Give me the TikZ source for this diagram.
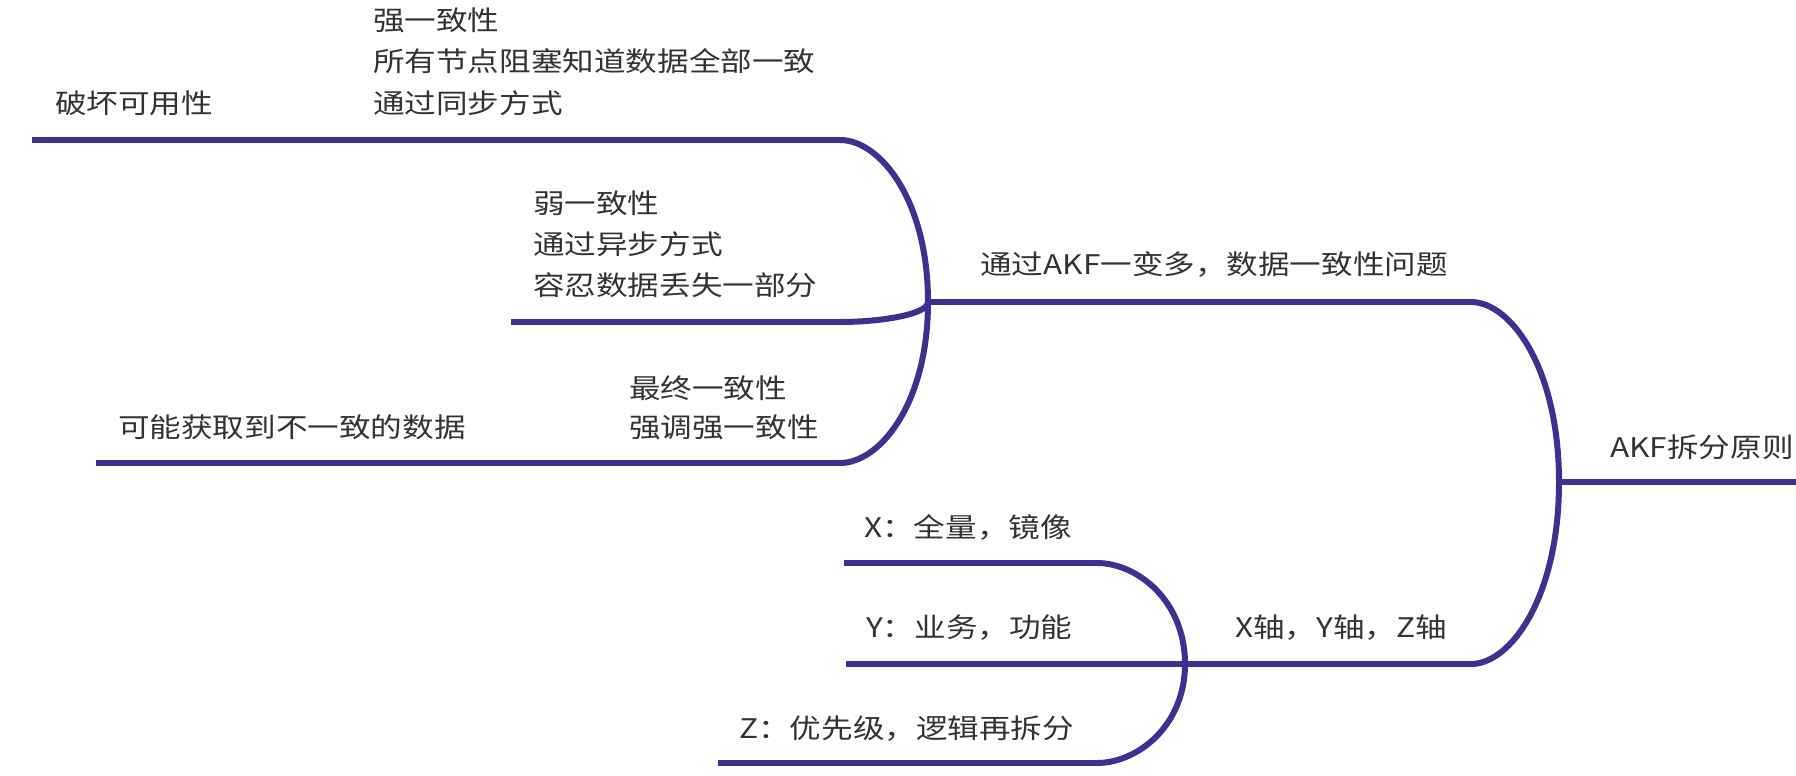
\documentclass[tikz,border=0pt]{standalone}
\usepackage{fontspec}
\newfontfamily\cjk[FakeStretch=1.17]{Noto Sans CJK SC}
\usetikzlibrary{calc}
\definecolor{branchcol}{HTML}{3C3090}
\definecolor{txtcol}{HTML}{333333}
\begin{document}
\begin{tikzpicture}[x=1pt,y=-1pt,
  branch/.style={draw=branchcol,line width=6pt},
  curve/.style={to path={.. controls ($(\tikztostart)+(40,0)$) and ($(\tikztotarget|-\tikztostart)!0.37!(\tikztotarget)$) .. (\tikztotarget)}},
  lbl/.style={anchor=base west,inner sep=0pt,font=\cjk\fontsize{27}{40}\selectfont,text=txtcol}]
\useasboundingbox (0,0) rectangle (1796,776);
% junctions and ends
\coordinate (root) at (1559,482);
\coordinate (rootend) at (1796,482);
\coordinate (a1) at (1471,302);
\coordinate (j1) at (928,302);
\coordinate (b1) at (1471,664);
\coordinate (j2) at (1185,664);
\coordinate (s1) at (840,140);
\coordinate (s0) at (351,140);
\coordinate (s00) at (32,140);
\coordinate (w1) at (840,322);
\coordinate (w0) at (511,322);
\coordinate (f1) at (840,463);
\coordinate (f0) at (606,463);
\coordinate (f00) at (96,463);
\coordinate (x1) at (1097,563);
\coordinate (x0) at (844,563);
\coordinate (y0) at (846,664);
\coordinate (z1) at (1097,763);
\coordinate (z0) at (718,763);
% connectors
\draw[branch] (root) -- (rootend);
\draw[branch] (a1) to[curve] (root);
\draw[branch] (b1) to[curve] (root);
\draw[branch] (j1) -- (a1);
\draw[branch] (j2) -- (b1);
\draw[branch] (s1) to[curve] (j1);
\draw[branch] (w1) to[curve] (j1);
\draw[branch] (f1) to[curve] (j1);
\draw[branch] (s0) -- (s1);
\draw[branch] (s00) -- (s0);
\draw[branch] (w0) -- (w1);
\draw[branch] (f0) -- (f1);
\draw[branch] (f00) -- (f0);
\draw[branch] (x1) to[curve] (j2);
\draw[branch] (z1) to[curve] (j2);
\draw[branch] (x0) -- (x1);
\draw[branch] (y0) -- (j2);
\draw[branch] (z0) -- (z1);
% labels
\node[lbl] (tRoot) at (1610,457) {AKF拆分原则};
\node[lbl] (tA) at (980,274) {通过AKF一变多，数据一致性问题};
\node[lbl] (tB) at (1235,637) {X轴，Y轴，Z轴};
\node[lbl] (tS1) at (373,31) {强一致性};
\node[lbl] (tS2) at (373,72) {所有节点阻塞知道数据全部一致};
\node[lbl] (tS3) at (373,113) {通过同步方式};
\node[lbl] (tS0) at (55,113) {破坏可用性};
\node[lbl] (tW1) at (533,213) {弱一致性};
\node[lbl] (tW2) at (533,254) {通过异步方式};
\node[lbl] (tW3) at (533,295) {容忍数据丢失一部分};
\node[lbl] (tF1) at (629,398) {最终一致性};
\node[lbl] (tF2) at (629,437) {强调强一致性};
\node[lbl] (tF0) at (118,437) {可能获取到不一致的数据};
\node[lbl] (tX) at (864,537) {X：全量，镜像};
\node[lbl] (tY) at (866,637) {Y：业务，功能};
\node[lbl] (tZ) at (739,738) {Z：优先级，逻辑再拆分};
\end{tikzpicture}
\end{document}
